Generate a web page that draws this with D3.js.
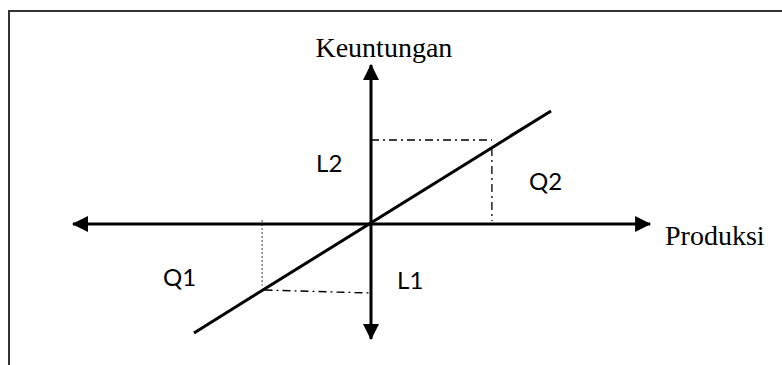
<!DOCTYPE html>
<html>
<head>
<meta charset="utf-8">
<script src="https://cdn.jsdelivr.net/npm/d3@7"></script>
<style>
  body { margin: 0; background: #fff; }
  svg { display: block; }
</style>
</head>
<body>
<div id="chart"></div>
<script>
// Profit vs production schematic (Keuntungan / Produksi)

// axis extents in chart units (origin = 0)
const xAxisExtent = [-10, 9.37];
const yAxisExtent = [-3.9, 5.37];

// the profit line through the origin
const profitLine = [[-5.9, -3.63], [6.0, 3.77]];

// dash-dot guides from the line to the axes
const guidesDashDot = [
    [[0, 2.8], [4.03, 2.8]],
    [[4.03, 2.53], [4.03, 0.1]],
    [[-3.55, -2.2], [0, -2.3]]
];
const guidesDotted = [
    [[-3.63, 0.13], [-3.63, -2.05]]
];

// labels
const axisTitles = [
    { text: 'Keuntungan', x: 0.43, y: 5.57, anchor: 'middle' },
    { text: 'Produksi', x: 9.8, y: -0.7, anchor: 'start' }
];
const regionLabels = [
    { text: 'L2', x: -1.83, y: 1.75 },
    { text: 'Q2', x: 5.27, y: 1.13 },
    { text: 'Q1', x: -6.93, y: -2.07 },
    { text: 'L1', x: 0.87, y: -2.17 }
];

const width = 782, height = 365;

const svg = d3.select('#chart')
    .append('svg')
    .attr('width', width)
    .attr('height', height);

// 30px per unit, origin at (371, 224)
const x = d3.scaleLinear().domain([-10, 10]).range([71, 671]);
const y = d3.scaleLinear().domain([-10, 10]).range([524, -76]);

// frame (top and left edges only, the rest is cropped)
svg.append('path')
    .attr('d', `M${width},11 H9 V${height}`)
    .attr('fill', 'none')
    .attr('stroke', '#333')
    .attr('stroke-width', 2);

// arrowhead
svg.append('defs').append('marker')
    .attr('id', 'arrow')
    .attr('markerUnits', 'userSpaceOnUse')
    .attr('markerWidth', 16)
    .attr('markerHeight', 16)
    .attr('refX', 15)
    .attr('refY', 8)
    .attr('orient', 'auto-start-reverse')
    .append('path')
    .attr('d', 'M0,0 L16,8 L0,16 Z')
    .attr('fill', '#000');

const g = svg.append('g');

// axes
g.append('line')
    .attr('x1', x(xAxisExtent[0]) + 2).attr('x2', x(xAxisExtent[1]) - 2)
    .attr('y1', y(0)).attr('y2', y(0))
    .attr('stroke', '#000').attr('stroke-width', 3)
    .attr('marker-start', 'url(#arrow)')
    .attr('marker-end', 'url(#arrow)');

g.append('line')
    .attr('x1', x(0)).attr('x2', x(0))
    .attr('y1', y(yAxisExtent[0]) - 2).attr('y2', y(yAxisExtent[1]) + 2)
    .attr('stroke', '#000').attr('stroke-width', 3)
    .attr('marker-start', 'url(#arrow)')
    .attr('marker-end', 'url(#arrow)');

const line = d3.line().x(d => x(d[0])).y(d => y(d[1]));

// guides
g.selectAll('.guide-dd')
    .data(guidesDashDot)
    .enter()
    .append('path')
    .attr('class', 'guide-dd')
    .attr('d', line)
    .attr('fill', 'none')
    .attr('stroke', '#000')
    .attr('stroke-width', 1.3)
    .attr('stroke-dasharray', '8,4,2,4');

g.selectAll('.guide-dot')
    .data(guidesDotted)
    .enter()
    .append('path')
    .attr('class', 'guide-dot')
    .attr('d', line)
    .attr('fill', 'none')
    .attr('stroke', '#000')
    .attr('stroke-width', 0.8)
    .attr('stroke-dasharray', '2,2');

// profit line
g.append('path')
    .datum(profitLine)
    .attr('d', line)
    .attr('fill', 'none')
    .attr('stroke', '#000')
    .attr('stroke-width', 3);

// text
g.selectAll('.axis-title')
    .data(axisTitles)
    .enter()
    .append('text')
    .attr('class', 'axis-title')
    .attr('x', d => x(d.x))
    .attr('y', d => y(d.y))
    .attr('text-anchor', d => d.anchor)
    .attr('font-family', '"Liberation Serif", "Times New Roman", serif')
    .attr('font-size', '28px')
    .attr('fill', '#000')
    .text(d => d.text);

g.selectAll('.region-label')
    .data(regionLabels)
    .enter()
    .append('text')
    .attr('class', 'region-label')
    .attr('x', d => x(d.x))
    .attr('y', d => y(d.y))
    .attr('font-family', 'Lato, "Open Sans", sans-serif')
    .attr('font-size', '24px')
    .attr('fill', '#000')
    .text(d => d.text);
</script>
</body>
</html>
